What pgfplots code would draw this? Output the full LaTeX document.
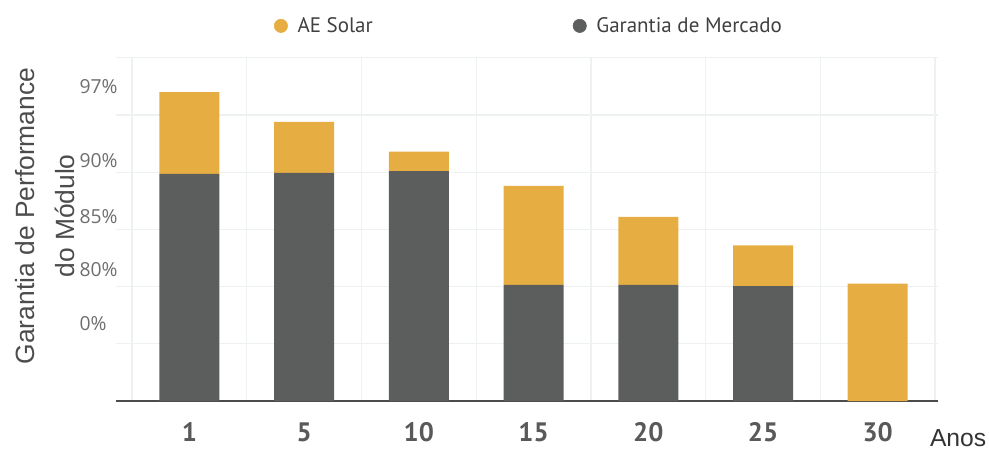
\documentclass[border=0pt]{standalone}
\usepackage{pgfplots}
\pgfplotsset{compat=1.18}
\usepackage{pgfplotstable}
\usepackage{fontspec}
\setmainfont{Open Sans}
\newfontfamily\ptsans{PT Sans}
\newfontfamily\helv{Liberation Sans}

\definecolor{aeyellow}{HTML}{E6AE42}
\definecolor{mktgray}{HTML}{5C5E5D}
\definecolor{gridc}{HTML}{EEF1F1}
\definecolor{ticktxt}{HTML}{6E6E6E}

% x: grid index (bars on odd lines), y: grid units above baseline
\pgfplotstableread{
x  gray  yellow
1  3.97  1.43
3  3.99  0.89
5  4.02  0.34
7  2.03  1.73
9  2.03  1.19
11 2.01  0.71
13 0     2.05
}\perfdata

\begin{document}
\begin{tikzpicture}
\useasboundingbox (-87pt,-36.75pt) rectangle (654.75pt,300.75pt);
\begin{axis}[
  x=43.02pt, y=42.9pt,
  xmin=-0.28, xmax=14.05, ymin=0, ymax=6,
  ybar stacked, bar width=1.046,
  axis x line=bottom, axis y line=left,
  x axis line style={-, line width=1.5pt, color=black!70},
  y axis line style={draw=none},
  xtick={1,3,...,13},
  xticklabels={1,5,10,15,20,25,30},
  minor xtick={0,2,...,14},
  xminorgrids=true,
  ytick={1.36,2.29,3.22,4.20,5.49},
  yticklabels={0\%,80\%,85\%,90\%,97\%},
  minor ytick={1,2,...,6},
  yminorgrids=true,
  minor grid style={gridc, line width=1pt},
  major tick length=0pt, minor tick length=0pt,
  xticklabel style={font=\ptsans\bfseries\fontsize{20}{20}\selectfont, text=black!65, anchor=north, yshift=-12.5pt},
  yticklabel style={font=\fontsize{14.5}{14.5}\selectfont, text=ticktxt, anchor=west, inner sep=0pt, xshift=-27.5pt},
  xlabel={Anos},
  xlabel style={font=\helv\fontsize{18.5}{18.5}\selectfont, text=black!80, at={(rel axis cs:0.990,0)}, anchor=west, inner sep=0pt, yshift=-27.5pt},
  ylabel={Garantia de Performance\\do Módulo},
  ylabel style={font=\helv\fontsize{19.8}{30}\selectfont, text=black!70, align=center, at={(rel axis cs:-0.0864,0.539)}, anchor=center},
  legend style={at={(rel axis cs:0.187,1.093)}, anchor=west, draw=none, fill=none,
    font=\ptsans\fontsize{15.75}{15.75}\selectfont, text=black!75,
    /tikz/every even column/.append style={column sep=148pt}},
  legend columns=2,
  legend image code/.code={\path[draw=none, fill=none] (0pt,0pt) -- (15.5pt,0pt); \fill[#1] (5pt,0pt) circle (5pt);},
]
\addlegendimage{aeyellow}
\addlegendentry{AE Solar}
\addlegendimage{mktgray}
\addlegendentry{Garantia de Mercado}
\addplot[fill=mktgray, draw=none, forget plot] table[x=x, y=gray] {\perfdata};
\addplot[fill=aeyellow, draw=none, forget plot] table[x=x, y=yellow] {\perfdata};
\end{axis}
\end{tikzpicture}
\end{document}
